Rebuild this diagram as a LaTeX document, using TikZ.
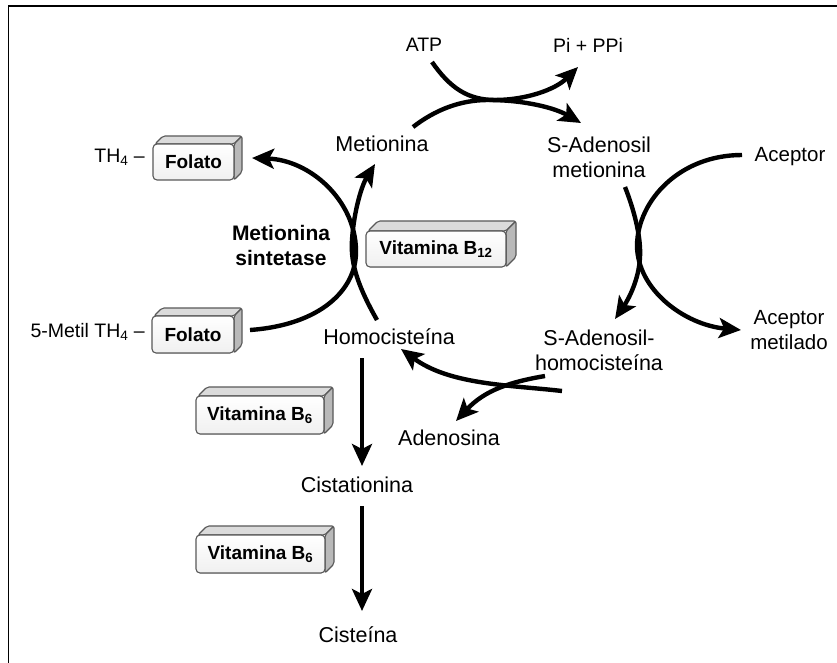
\documentclass[tikz,border=0pt]{standalone}
\usepackage{fontspec}
\setmainfont{Liberation Sans}
\usetikzlibrary{arrows.meta}
\tikzset{
  flow/.style={line width=4.4pt, -{Stealth[length=22pt,width=20pt,inset=5pt]}},
  plainflow/.style={line width=4.4pt},
  lbl/.style={font=\fontsize{21.5}{25}\selectfont, inner sep=0pt, align=center},
  lblb/.style={font=\fontsize{21}{25}\selectfont\bfseries, inner sep=0pt, align=center},
  small/.style={font=\fontsize{19.5}{24}\selectfont, inner sep=0pt, align=center},
  acc/.style={font=\fontsize{20.5}{24.5}\selectfont, inner sep=0pt, align=center},
  boxtxt/.style={font=\fontsize{19}{22}\selectfont\bfseries, inner sep=0pt},
  boxline/.style={draw=black!65, line width=1.1pt},
  frameline/.style={line width=1.5pt},
}
% name, x1, y1, x2, y2, depth, text
\newcommand{\tdbox}[7]{%
  \filldraw[boxline, fill=gray!28, rounded corners=2pt] (#2+2,#3) -- (#2+2+#6,#3-#6) -- (#4+#6,#3-#6) -- (#4,#3) -- cycle;
  \filldraw[boxline, fill=gray!55, rounded corners=2pt] (#4,#3) -- (#4+#6,#3-#6) -- (#4+#6,#5-#6) -- (#4,#5) -- cycle;
  \filldraw[boxline, top color=white, bottom color=gray!12, rounded corners=4pt] (#2,#3) rectangle (#4,#5);
  \node[boxtxt] (#1) at ({(#2+#4)/2},{(#3+#5)/2}) {#7};
}
\begin{document}
\begin{tikzpicture}[x=1pt, y=-1pt]
\useasboundingbox (0,0) rectangle (837,663);
\fill[white] (0,0) rectangle (837,663);
\draw[frameline] (8.5,663) -- (8.5,6) -- (837,6);

% text nodes
\node[small] (atp) at (424,45) {ATP};
\node[small] (pi) at (588,45) {Pi + PPi};
\node[lbl] (met) at (382,144) {Metionina};
\node[lbl] (sam) at (599,157) {S-Adenosil\\metionina};
\node[acc] (acc) at (790,157) {Aceptor};
\node[acc] (acm) at (789,330) {Aceptor\\metilado};
\node[lblb] (ms) at (281,245) {Metionina\\sintetase};
\node[lbl] (hcy) at (389,337) {Homocisteína};
\node[lbl] (sah) at (599,350) {S-Adenosil-\\homocisteína};
\node[lbl] (ado) at (449,438) {Adenosina};
\node[lbl] (cth) at (357,485) {Cistationina};
\node[lbl] (cys) at (358,635) {Cisteína};
\node[small, anchor=east] (th4) at (145,157) {TH\textsubscript{4} –};
\node[small, anchor=east] (mth4) at (145,332) {5-Metil TH\textsubscript{4} –};

% boxes
\tdbox{fol1}{153}{144}{234}{180}{8}{Folato}
\tdbox{fol2}{152}{316}{234}{353}{8}{Folato}
\tdbox{b12}{366}{231}{506}{267}{10}{Vitamina B\textsubscript{12}}
\tdbox{b6a}{196}{396}{324}{434}{9}{Vitamina B\textsubscript{6}}
\tdbox{b6b}{196}{535}{325}{573}{9}{Vitamina B\textsubscript{6}}

% connector end points
\coordinate (atpS) at (432,62);
\coordinate (piE) at (578,67);
\coordinate (metS) at (413,127);
\coordinate (samE) at (581,123);
\coordinate (accS) at (742,155);
\coordinate (acmE) at (741,330);
\coordinate (samS) at (625,187);
\coordinate (sahE) at (615,319);
\coordinate (fol2S) at (250,330);
\coordinate (fol1E) at (252,158);
\coordinate (hcyS) at (377,320);
\coordinate (metE) at (375,164);
\coordinate (sahS1) at (562,391);
\coordinate (hcyE) at (401,349);
\coordinate (sahS2) at (545,376);
\coordinate (adoE) at (456,421);
\coordinate (hcyB) at (362,358);
\coordinate (cthT) at (362,466);
\coordinate (cthB) at (362,506);
\coordinate (cysT) at (362,611);

% top crossing
\draw[flow] (atpS) .. controls (450,88) and (468,100) .. (495,100) .. controls (525,100) and (555,90) .. (piE);
\draw[flow] (metS) .. controls (435,110) and (460,100) .. (488,100) .. controls (525,100) and (555,108) .. (samE);

% right crossing
\draw[flow] (accS) .. controls (680,155) and (638,200) .. (637,245) .. controls (637,290) and (685,325) .. (acmE);
\draw[flow] (samS) .. controls (636,215) and (641,240) .. (640,257) .. controls (639,280) and (628,300) .. (sahE);

% left crossing (metionina sintetase)
\draw[flow] (fol2S) .. controls (320,325) and (357,290) .. (356,250) .. controls (355,200) and (310,160) .. (fol1E);
\draw[flow] (hcyS) .. controls (360,290) and (350,265) .. (352,240) .. controls (354,210) and (362,185) .. (metE);

% bottom crossing
\draw[flow] (sahS1) .. controls (510,385) and (450,385) .. (hcyE);
\draw[flow] (sahS2) .. controls (510,382) and (485,390) .. (adoE);

% vertical arrows
\draw[flow] (hcyB) -- (cthT);
\draw[flow] (cthB) -- (cysT);
\end{tikzpicture}
\end{document}
